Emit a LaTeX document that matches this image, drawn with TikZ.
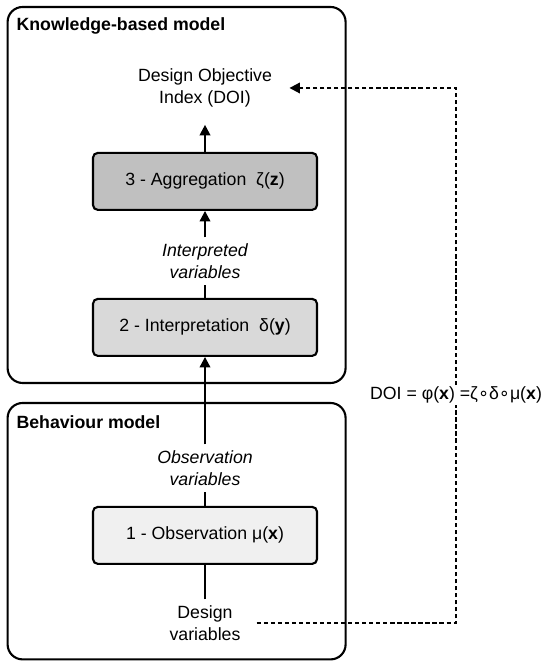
\documentclass[tikz,border=0pt]{standalone}
\usepackage{fontspec}
\setmainfont{Liberation Sans}
\newfontfamily\ringfont{DejaVu Sans}
\usetikzlibrary{arrows.meta,positioning}
\definecolor{aggfill}{RGB}{192,192,192}
\definecolor{intfill}{RGB}{217,217,217}
\definecolor{obsfill}{RGB}{240,240,240}
\newcommand{\figfont}{\fontsize{12.6}{15.8}\selectfont}
\newcommand{\rng}{{\ringfont ∘}}

\begin{document}
\begin{tikzpicture}[font=\figfont,
modelbox/.style={draw,line width=1.5pt,rounded corners=0.375cm},
stepbox/.style={draw,line width=1.5pt,rounded corners=0.12cm,minimum width=5.6cm,minimum height=1.425cm},
varlabel/.style={align=center,inner sep=4pt},
flow/.style={line width=1.5pt,-{Triangle[length=7.5pt,width=7.5pt]}},
feedback/.style={line width=1.4pt,dash pattern=on 3pt off 2pt}]
\useasboundingbox (0,0) rectangle (13.55,16.525);
\draw[modelbox] (0.19,6.95) rectangle (8.64,16.35);
\draw[modelbox] (0.19,0.04) rectangle (8.64,6.45);
\node[anchor=west,font=\figfont\bfseries] (Tk) at (0.29,15.875) {Knowledge-based model};
\node[anchor=west,font=\figfont\bfseries] (Tb) at (0.29,5.975) {Behaviour model};
\node[varlabel,inner sep=0.43cm] (Doi) at (5.125,14.325) {Design Objective\\Index (DOI)};
\node[stepbox,fill=aggfill] (S3) at (5.125,11.99) {3 - Aggregation\ \ ζ(\textbf{z})};
\node[varlabel,font=\figfont\itshape] (Vint) at (5.125,10.0) {Interpreted\\variables};
\node[stepbox,fill=intfill] (S2) at (5.125,8.34) {2 - Interpretation\ \ δ(\textbf{y})};
\node[varlabel,font=\figfont\itshape] (Vobs) at (5.125,4.825) {Observation\\variables};
\node[stepbox,fill=obsfill] (S1) at (5.125,3.14) {1 - Observation μ(\textbf{x})};
\node[varlabel,inner xsep=0.4cm] (Vdes) at (5.125,0.95) {Design\\variables};
\node[inner sep=1pt] (Phi) at (11.4,6.65) {DOI = φ(\textbf{x}) =ζ\rng δ\rng μ(\textbf{x})};
\draw[flow] (S3) -- (Doi);
\draw[line width=1.5pt] (S2) -- (Vint);
\draw[flow] (Vint) -- (S3);
\draw[flow] (Vobs) -- (S2);
\draw[line width=1.5pt] (S1) -- (Vobs);
\draw[line width=1.5pt] (Vdes) -- (S1);
\draw[feedback] (Vdes.east) -| (Phi.south);
\draw[feedback,-{Triangle[length=7.5pt,width=7.5pt]}] (Phi.north) |- (Doi.east);
\end{tikzpicture}
\end{document}
